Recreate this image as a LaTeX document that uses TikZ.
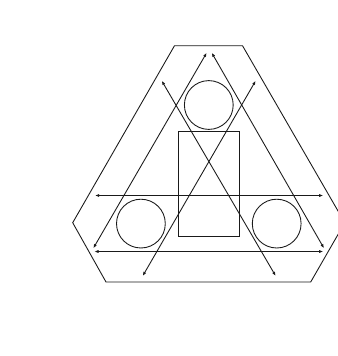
\documentclass[tikz,border=0pt]{standalone}
\usepackage{tikz}
\usetikzlibrary{arrows.meta}
\definecolor{FigureInk}{HTML}{1A1A1A}
\tikzset{
  figure/.style={x=0.02cm,y=-0.02cm,line width=0.5pt,draw=FigureInk},
  rim/.style={draw=FigureInk,line width=0.5pt,line join=miter},
  pole/.style={draw=FigureInk,circle,minimum size=0.976cm,inner sep=0pt},
  block/.style={draw=FigureInk,rectangle,minimum width=1.22cm,minimum height=2.114cm,inner sep=0pt},
  link/.style={{Latex[length=2.4pt,width=1.8pt]}-{Latex[length=2.4pt,width=1.8pt]},line width=0.5pt,draw=FigureInk},
}

\begin{document}
\begin{tikzpicture}[figure]
  \useasboundingbox (0,0) rectangle (338,356);
  \clip (0,0) rectangle (338,356);

  % outer truncated triangle
  \coordinate (rimA) at (174.5,45.7);
  \coordinate (rimB) at (242.5,45.7);
  \coordinate (rimC) at (344.8,222.7);
  \coordinate (rimD) at (310.7,282);
  \coordinate (rimE) at (106,282);
  \coordinate (rimF) at (72.7,222.7);
  \draw[rim] (rimA) -- (rimB) -- (rimC) -- (rimD) -- (rimE) -- (rimF) -- cycle;

  % three circles and the block
  \node[pole] (top) at (208.8,105) {};
  \node[pole] (left) at (140.9,223.6) {};
  \node[pole] (right) at (276.7,223.6) {};
  \node[block] (core) at (208.8,183.9) {};

  % end points of the arrows
  \coordinate (apexL) at (206.7,52.7);
  \coordinate (apexR) at (211.7,52.7);
  \coordinate (footL) at (93.3,248.3);
  \coordinate (footR) at (324,248.3);
  \coordinate (baseL) at (94.3,251.5);
  \coordinate (baseR) at (323.3,251.5);
  \coordinate (midL) at (95,195.5);
  \coordinate (midR) at (323.3,195.5);
  \coordinate (crossTL) at (161.7,80.7);
  \coordinate (crossTR) at (255.7,80.7);
  \coordinate (crossBL) at (142.7,276);
  \coordinate (crossBR) at (275.7,276);

  \draw[link] (apexL) -- (footL);
  \draw[link] (apexR) -- (footR);
  \draw[link] (baseL) -- (baseR);
  \draw[link] (midL) -- (midR);
  \draw[link] (crossTL) -- (crossBR);
  \draw[link] (crossTR) -- (crossBL);
\end{tikzpicture}
\end{document}
